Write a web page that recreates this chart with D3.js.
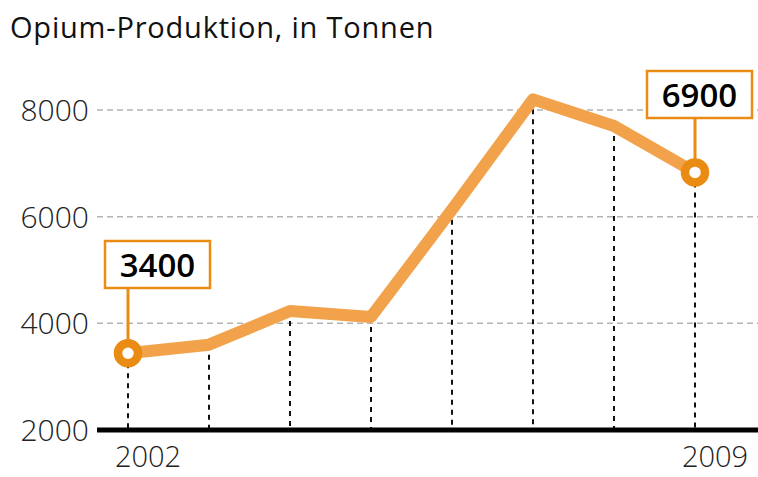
<!DOCTYPE html>
<head>
  <meta charset="utf-8">
  <script src="https://d3js.org/d3.v7.min.js"></script>
  <style>
    body { margin:0; background:#fff; }
    text { font-family: "Open Sans", Lato, sans-serif; }
  </style>
</head>
<body>
  <script>
    var years = [2002, 2003, 2004, 2005, 2006, 2007, 2008, 2009];
    var tonnes = [3440, 3600, 4230, 4120, 6130, 8200, 7700, 6830];
    var yTicks = [2000, 4000, 6000, 8000];
    var xLabels = [2002, 2009];
    var callouts = [2002, 2009];
    var calloutText = ["3400", "6900"];

    var width = 758, height = 477;

    var svg = d3.select("body").append("svg")
      .attr("width", width)
      .attr("height", height)

    var data = years.map(function(y, i) { return {year: y, value: tonnes[i]}; });

    var x = d3.scalePoint()
        .domain(years)
        .range([128, 695])

    var y = d3.scaleLinear()
        .domain([2000, 8000])
        .range([430, 110])

    svg.append("text")
      .attr("x", 10).attr("y", 38)
      .attr("font-size", 29)
      .attr("letter-spacing", 0.8)
      .attr("fill", "#111")
      .text("Opium-Produktion, in Tonnen")

    // gridlines
    svg.selectAll(".grid").data(yTicks.slice(1)).enter()
      .append("line")
      .attr("x1", 97).attr("x2", width)
      .attr("y1", function(d) { return y(d); })
      .attr("y2", function(d) { return y(d); })
      .style("stroke", "#b3b3b3")
      .style("stroke-width", 1.5)
      .style("stroke-dasharray", "6,4")

    svg.selectAll(".ylab").data(yTicks).enter()
      .append("text")
      .attr("x", 89)
      .attr("y", function(d) { return y(d) + 11; })
      .attr("text-anchor", "end")
      .attr("font-size", 30)
      .attr("font-weight", 300)
      .attr("fill", "#222")
      .text(function(d) { return d; })

    // drop lines
    svg.selectAll(".drop").data(data).enter()
      .append("line")
      .attr("x1", function(d) { return x(d.year); })
      .attr("x2", function(d) { return x(d.year); })
      .attr("y1", function(d) { return y(d.value); })
      .attr("y2", y(2000))
      .style("stroke", "#111")
      .style("stroke-width", 2)
      .style("stroke-dasharray", "5,5")

    svg.append("line")
      .attr("x1", 97).attr("x2", width)
      .attr("y1", y(2000)).attr("y2", y(2000))
      .style("stroke", "#000")
      .style("stroke-width", 5)

    var line = d3.line()
      .x(function(d) { return x(d.year); })
      .y(function(d) { return y(d.value); })

    svg.append("path")
      .datum(data)
      .attr("d", line)
      .style("fill", "none")
      .style("stroke", "#f2a24a")
      .style("stroke-width", 12)
      .style("stroke-linejoin", "round")

    svg.selectAll(".xlab").data(xLabels).enter()
      .append("text")
      .attr("x", function(d) { return x(d) + 20; })
      .attr("y", 467)
      .attr("text-anchor", "middle")
      .attr("font-size", 29)
      .attr("font-weight", 300)
      .attr("fill", "#222")
      .text(function(d) { return d; })

    // callouts
    var boxTop = {2002: 241, 2009: 71};
    var boxLeft = {2002: -23, 2009: -48};

    callouts.forEach(function(yr, i) {
      var d = data[years.indexOf(yr)];
      var cx = x(d.year), cy = y(d.value);
      var top = boxTop[yr];
      svg.append("line")
        .attr("x1", cx).attr("x2", cx)
        .attr("y1", top + 47).attr("y2", cy)
        .style("stroke", "#ea8c14")
        .style("stroke-width", 3)
      svg.append("rect")
        .attr("x", cx + boxLeft[yr]).attr("y", top)
        .attr("width", 105).attr("height", 47)
        .style("fill", "#fff")
        .style("stroke", "#ea8c14")
        .style("stroke-width", 2.5)
      svg.append("text")
        .attr("x", cx + boxLeft[yr] + 52.5)
        .attr("y", top + 36)
        .attr("text-anchor", "middle")
        .attr("font-size", 33)
        .attr("font-weight", 600)
        .attr("fill", "#000")
        .text(calloutText[i])
      svg.append("circle")
        .attr("cx", cx).attr("cy", cy).attr("r", 10)
        .style("fill", "#fff")
        .style("stroke", "#ea8c14")
        .style("stroke-width", 8.5)
    })
  </script>
</body>
